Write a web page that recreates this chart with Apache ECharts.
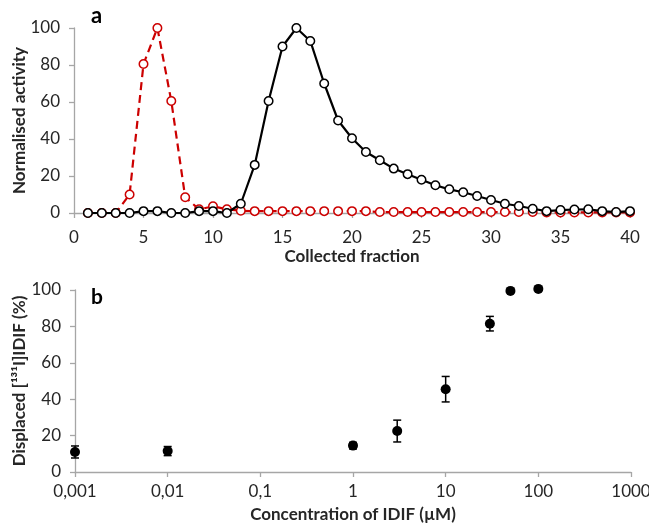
<!DOCTYPE html>
<html>
<head>
<meta charset="utf-8">
<script src="https://cdn.jsdelivr.net/npm/echarts@6/dist/echarts.min.js"></script>
<style>html,body{margin:0;padding:0;background:#fff}#c{width:649px;height:529px}</style>
</head>
<body>
<div id="c"></div>
<script>
// Panel a: collected fractions
const fractions = [1,2,3,4,5,6,7,8,9,10,11,12,13,14,15,16,17,18,19,20,21,22,23,24,25,26,27,28,29,30,31,32,33,34,35,36,37,38,39,40];
const blackActivity = [0,0,0,0,1,1,0,0,1,1,0,5,26,60.5,90,100,93,70,50,40.4,33,28.5,24,21,18,15,12.8,11.2,9.2,7,5,3.8,2.3,1,1.6,1.9,2,1,0.5,1];
const redActivity = [0,0,0,10,80.5,100,60.5,8.5,2,3.6,2,1.2,1,1,1,1,1,1,1,1,1,0.5,0.5,0.5,0.5,0.5,0.5,0.5,0.5,0.5,0.5,0.5,0.5,0.3,0.3,0.3,0.3,0.3,0.3,0.3];
// Panel b: displacement
const concentration = [0.001, 0.01, 1, 3, 10, 30, 50, 100];
const displaced = [11, 11.5, 14.5, 22.5, 45.5, 81.5, 99.5, 100.6];
const displacedErr = [3.3, 2.5, 1.8, 6, 7, 4, 0.8, 0.5];

const FONT = 'Lato';
const axisLineStyle = {color:'#a6a6a6', width:1.3};
const labelColor = '#262626';

const chart = echarts.init(document.getElementById('c'), null, {renderer:'canvas'});
const option = {
  animation:false,
  backgroundColor:'#fff',
  textStyle:{fontFamily:FONT},
  grid:[
    {left:74, top:28, width:556, height:185, containLabel:false, outerBoundsMode:'none'},
    {left:75, top:290, width:556, height:182, containLabel:false, outerBoundsMode:'none'}
  ],
  xAxis:[
    {gridIndex:0, type:'value', min:0, max:40, interval:5,
     name:'Collected fraction', nameLocation:'middle', nameGap:35, nameMoveOverlap:false,
     nameTextStyle:{fontFamily:FONT, fontWeight:'bold', fontSize:17, color:labelColor},
     axisLine:{show:true, lineStyle:axisLineStyle},
     axisTick:{show:true, length:5, lineStyle:axisLineStyle},
     axisLabel:{fontFamily:FONT, fontSize:17, color:labelColor, margin:16},
     splitLine:{show:false}},
    {gridIndex:1, type:'log', logBase:10, min:0.001, max:1000,
     name:'Concentration of IDIF (µM)', nameLocation:'middle', nameGap:34, nameMoveOverlap:false,
     nameTextStyle:{fontFamily:FONT, fontWeight:'bold', fontSize:17, color:labelColor},
     axisLine:{show:true, lineStyle:axisLineStyle},
     axisTick:{show:true, length:5, lineStyle:axisLineStyle},
     axisLabel:{fontFamily:FONT, fontSize:17, color:labelColor, margin:11,
       formatter:function(v){return String(parseFloat(Number(v).toPrecision(4))).replace('.', ',');}},
     splitLine:{show:false}, minorTick:{show:false}}
  ],
  yAxis:[
    {gridIndex:0, type:'value', min:0, max:100, interval:20,
     name:'Normalised activity', nameLocation:'middle', nameGap:46, nameRotate:90, nameMoveOverlap:false,
     nameTextStyle:{fontFamily:FONT, fontWeight:'bold', fontSize:17, color:labelColor},
     axisLine:{show:true, lineStyle:axisLineStyle},
     axisTick:{show:true, length:5, lineStyle:axisLineStyle},
     axisLabel:{fontFamily:FONT, fontSize:17, color:labelColor, margin:14},
     splitLine:{show:false}},
    {gridIndex:1, type:'value', min:0, max:100, interval:20,
     name:'Displaced [¹³¹I]IDIF (%)', nameLocation:'middle', nameGap:47, nameRotate:90, nameMoveOverlap:false,
     nameTextStyle:{fontFamily:FONT, fontWeight:'bold', fontSize:17, color:labelColor},
     axisLine:{show:true, lineStyle:axisLineStyle},
     axisTick:{show:true, length:5, lineStyle:axisLineStyle},
     axisLabel:{fontFamily:FONT, fontSize:17, color:labelColor, margin:14},
     splitLine:{show:false}}
  ],
  graphic:[
    {type:'text', left:91, top:5, style:{text:'a', font:'bold 22px Lato', fill:'#000'}},
    {type:'text', left:91, top:287, style:{text:'b', font:'bold 21px Lato', fill:'#000'}}
  ],
  series:[
    {type:'line', xAxisIndex:0, yAxisIndex:0, name:'red',
     data:fractions.map((f,i)=>[f, redActivity[i]]),
     symbol:'circle', symbolSize:8.5, showAllSymbol:true,
     lineStyle:{color:'#cc0000', width:2.2, type:[8,5]},
     itemStyle:{color:'#fff', borderColor:'#cc0000', borderWidth:1.5},
     z:2},
    {type:'line', xAxisIndex:0, yAxisIndex:0, name:'black',
     data:fractions.map((f,i)=>[f, blackActivity[i]]),
     symbol:'circle', symbolSize:8.5, showAllSymbol:true,
     lineStyle:{color:'#000', width:2.2},
     itemStyle:{color:'#fff', borderColor:'#000', borderWidth:1.5},
     z:3},
    {type:'custom', xAxisIndex:1, yAxisIndex:1,
     data:concentration.map((c,i)=>[c, displaced[i]-displacedErr[i], displaced[i]+displacedErr[i]]),
     renderItem:function(params, api){
       const p1 = api.coord([api.value(0), api.value(1)]);
       const p2 = api.coord([api.value(0), api.value(2)]);
       const w = 4;
       const st = {stroke:'#000', lineWidth:1.5};
       return {type:'group', children:[
         {type:'line', shape:{x1:p1[0], y1:p1[1], x2:p2[0], y2:p2[1]}, style:st},
         {type:'line', shape:{x1:p1[0]-w, y1:p1[1], x2:p1[0]+w, y2:p1[1]}, style:st},
         {type:'line', shape:{x1:p2[0]-w, y1:p2[1], x2:p2[0]+w, y2:p2[1]}, style:st}
       ]};
     }, z:2},
    {type:'scatter', xAxisIndex:1, yAxisIndex:1, clip:false,
     data:concentration.map((c,i)=>[c, displaced[i]]),
     symbol:'circle', symbolSize:10, itemStyle:{color:'#000', opacity:1}, z:3}
  ]
};
chart.setOption(option);
</script>
</body>
</html>
